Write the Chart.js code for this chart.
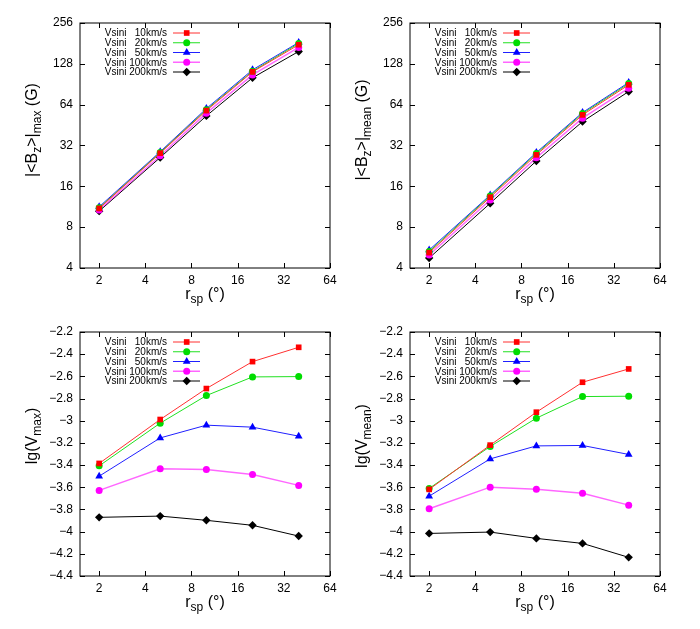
<!DOCTYPE html>
<html><head><meta charset="utf-8">
<script src="https://cdn.jsdelivr.net/npm/chart.js@4.4.0/dist/chart.umd.min.js"></script>
<style>
body{margin:0;background:#fff;width:700px;height:629px;position:relative;overflow:hidden}
.p{position:absolute}
</style></head><body>
<div class="p" style="left:0;top:0"><canvas id="c1" width="350" height="314"></canvas></div>
<div class="p" style="left:350px;top:0"><canvas id="c2" width="350" height="314"></canvas></div>
<div class="p" style="left:0;top:314px"><canvas id="c3" width="350" height="315"></canvas></div>
<div class="p" style="left:350px;top:314px"><canvas id="c4" width="350" height="315"></canvas></div>
<script>
// ---- data ----
const rsp = [2, 5, 10, 20, 40];
const seriesNames = ['Vsini   10km/s', 'Vsini   20km/s', 'Vsini   50km/s', 'Vsini 100km/s', 'Vsini 200km/s'];
const xTicks = [2, 4, 8, 16, 32, 64];
const bTicks = [4, 8, 16, 32, 64, 128, 256];
const lgTicks = [-4.4, -4.2, -4.0, -3.8, -3.6, -3.4, -3.2, -3.0, -2.8, -2.6, -2.4, -2.2];

// |<Bz>|max (G)
const bmax10  = [11.0, 28.1, 57.9, 111.7, 177];
const bmax20  = [11.1, 28.4, 58.8, 113.0, 181];
const bmax50  = [11.3, 28.8, 59.9, 115.6, 184];
const bmax100 = [10.7, 26.9, 55.4, 106.0, 169];
const bmax200 = [10.5, 26.1, 52.9, 101.0, 158];
// |<Bz>|mean (G)
const bmean10  = [5.19, 13.3, 27.3, 53.8, 89.6];
const bmean20  = [5.30, 13.6, 27.9, 55.0, 91.5];
const bmean50  = [5.43, 13.8, 28.4, 56.0, 93.2];
const bmean100 = [4.99, 12.7, 26.0, 50.9, 84.7];
const bmean200 = [4.74, 12.0, 24.6, 48.0, 80.0];
// lg(Vmax)
const vmax10  = [-3.385, -2.989, -2.710, -2.467, -2.338];
const vmax20  = [-3.407, -3.022, -2.773, -2.605, -2.602];
const vmax50  = [-3.500, -3.155, -3.040, -3.058, -3.139];
const vmax100 = [-3.628, -3.434, -3.439, -3.484, -3.583];
const vmax200 = [-3.871, -3.860, -3.898, -3.943, -4.040];
// lg(Vmean)
const vmean10  = [-3.619, -3.220, -2.923, -2.653, -2.533];
const vmean20  = [-3.610, -3.232, -2.977, -2.782, -2.779];
const vmean50  = [-3.680, -3.344, -3.227, -3.223, -3.304];
const vmean100 = [-3.794, -3.599, -3.617, -3.653, -3.761];
const vmean200 = [-4.016, -4.004, -4.061, -4.106, -4.232];

// ---- styles ----
const FONT = '"Liberation Sans", Arial, Helvetica, sans-serif';
const colors = ['#ff0000', '#00dd00', '#0000ff', '#ff00ff', '#000000'];
const lineColors = ['#ff3030', '#20e020', '#2020ff', 'rgba(255,0,255,0.6)', '#000000'];
const lineWidths = [1, 1, 1, 1.5, 1];
const shapes = ['rect', 'circle', 'triangle', 'circle', 'rectRot'];
const radii = [4, 3.5, 4.5, 3.5, 4.2];

function drawShape(ctx, shape, x, y, r, color) {
  ctx.save();
  ctx.fillStyle = color;
  ctx.beginPath();
  if (shape === 'rect') { const h = r * Math.SQRT1_2; ctx.rect(x - h, y - h, 2 * h, 2 * h); }
  else if (shape === 'circle') { ctx.arc(x, y, r, 0, Math.PI * 2); }
  else if (shape === 'triangle') {
    ctx.moveTo(x, y - r); ctx.lineTo(x + r * 0.866, y + r * 0.5); ctx.lineTo(x - r * 0.866, y + r * 0.5); ctx.closePath();
  } else if (shape === 'rectRot') {
    ctx.moveTo(x, y - r); ctx.lineTo(x + r, y); ctx.lineTo(x, y + r); ctx.lineTo(x - r, y); ctx.closePath();
  }
  ctx.fill();
  ctx.restore();
}

function segWidth(ctx, segs, main, sub) {
  let w = 0;
  for (const s of segs) { ctx.font = (s.sub ? sub : main) + 'px ' + FONT; w += ctx.measureText(s.t).width; }
  return w;
}
function drawSegs(ctx, segs, x, y, main, sub) {
  const w = segWidth(ctx, segs, main, sub);
  let cx = x - w / 2;
  ctx.textAlign = 'left'; ctx.textBaseline = 'alphabetic'; ctx.fillStyle = '#000';
  for (const s of segs) {
    ctx.font = (s.sub ? sub : main) + 'px ' + FONT;
    ctx.fillText(s.t, cx, y + (s.sub ? 3.5 : 0));
    cx += ctx.measureText(s.t).width;
  }
}

const gpPlugin = {
  id: 'gp',
  afterDraw(chart) {
    const o = chart.options.plugins.gp;
    const ctx = chart.ctx, a = chart.chartArea;
    const xs = chart.scales.x, ys = chart.scales.y;
    ctx.save();
    // frame
    ctx.strokeStyle = '#000'; ctx.lineWidth = 1;
    ctx.strokeRect(a.left, a.top, a.right - a.left, a.bottom - a.top);
    // inward ticks on all four sides
    ctx.beginPath();
    for (const t of xs.ticks) {
      const px = Math.round(xs.getPixelForValue(t.value)) + 0.5;
      ctx.moveTo(px, a.bottom); ctx.lineTo(px, a.bottom - 5);
      ctx.moveTo(px, a.top); ctx.lineTo(px, a.top + 5);
    }
    for (const t of ys.ticks) {
      const py = Math.round(ys.getPixelForValue(t.value)) + 0.5;
      ctx.moveTo(a.left, py); ctx.lineTo(a.left + 5, py);
      ctx.moveTo(a.right, py); ctx.lineTo(a.right - 5, py);
    }
    ctx.stroke();
    // y title (rotated)
    ctx.save();
    ctx.translate(a.left - 43, o.yTitleY);
    ctx.rotate(-Math.PI / 2);
    drawSegs(ctx, o.yTitle, 0, 0, 16, 12);
    ctx.restore();
    // x title
    drawSegs(ctx, o.xTitle, (a.left + a.right) / 2, a.bottom + 31, 16, 12);
    // legend (gnuplot style: text, line sample, marker)
    chart.data.datasets.forEach((ds, i) => {
      const ry = a.top + 10 + i * 9.75;
      ctx.font = '10px ' + FONT; ctx.fillStyle = '#000';
      ctx.textAlign = 'right'; ctx.textBaseline = 'middle';
      ctx.fillText(ds.label, a.left + 87, ry + 0.5);
      ctx.beginPath();
      ctx.strokeStyle = ds.borderColor; ctx.lineWidth = ds.borderWidth;
      ctx.moveTo(a.left + 93, ry); ctx.lineTo(a.left + 120, ry);
      ctx.stroke();
      drawShape(ctx, ds.pointStyle, a.left + 106.7, ry, ds.pointRadius, ds.pointBackgroundColor);
    });
    ctx.restore();
  }
};

function makeChart(id, series, isLog, yTitle, yTitleY, pad) {
  const datasets = series.map((vals, i) => ({
    label: seriesNames[i],
    data: rsp.map((x, j) => ({ x: x, y: vals[j] })),
    borderColor: lineColors[i],
    borderWidth: lineWidths[i],
    pointBackgroundColor: colors[i],
    pointBorderColor: colors[i],
    pointBorderWidth: 0,
    pointStyle: shapes[i],
    pointRadius: radii[i],
    tension: 0,
    fill: false
  }));
  const tickFont = { family: FONT, size: 12 };
  const yScale = isLog ? {
    type: 'logarithmic', min: 4, max: 256,
    afterBuildTicks: s => { s.ticks = bTicks.map(v => ({ value: v })); },
    ticks: { callback: v => String(v) }
  } : {
    type: 'linear', min: -4.4, max: -2.2,
    afterBuildTicks: s => { s.ticks = lgTicks.map(v => ({ value: v })); },
    ticks: { callback: v => String(parseFloat(v.toFixed(1))).replace('-', '\u2212') }
  };
  Object.assign(yScale, {
    position: 'left',
    grid: { display: false, drawTicks: false },
    border: { display: false },
    afterFit: s => { s.width = 50; }
  });
  Object.assign(yScale.ticks, { font: tickFont, color: '#000', padding: 7, autoSkip: false });
  return new Chart(document.getElementById(id), {
    type: 'line',
    data: { datasets },
    plugins: [gpPlugin],
    options: {
      responsive: false, animation: false,
      layout: { padding: pad },
      scales: {
        x: {
          type: 'logarithmic', min: 1.5, max: 64, position: 'bottom',
          afterBuildTicks: s => { s.ticks = xTicks.map(v => ({ value: v })); },
          ticks: { callback: v => String(v), font: tickFont, color: '#000', padding: 5, autoSkip: false, maxRotation: 0 },
          grid: { display: false, drawTicks: false },
          border: { display: false },
          afterFit: s => { s.height = 30; }
        },
        y: yScale
      },
      plugins: {
        legend: { display: false },
        tooltip: { enabled: false },
        gp: { yTitle, yTitleY, xTitle: [{ t: 'r' }, { t: 'sp', sub: true }, { t: ' (\u00b0)' }] }
      }
    }
  });
}

makeChart('c1', [bmax10, bmax20, bmax50, bmax100, bmax200], true,
  [{ t: '|<B' }, { t: 'z', sub: true }, { t: '>|' }, { t: 'max', sub: true }, { t: ' (G)' }], 130,
  { left: 30, right: 20, top: 23, bottom: 16 });
makeChart('c2', [bmean10, bmean20, bmean50, bmean100, bmean200], true,
  [{ t: '|<B' }, { t: 'z', sub: true }, { t: '>|' }, { t: 'mean', sub: true }, { t: ' (G)' }], 130,
  { left: 10, right: 40, top: 23, bottom: 16 });
makeChart('c3', [vmax10, vmax20, vmax50, vmax100, vmax200], false,
  [{ t: 'lg(V' }, { t: 'max', sub: true }, { t: ')' }], 122,
  { left: 30, right: 20, top: 18, bottom: 23 });
makeChart('c4', [vmean10, vmean20, vmean50, vmean100, vmean200], false,
  [{ t: 'lg(V' }, { t: 'mean', sub: true }, { t: ')' }], 122,
  { left: 10, right: 40, top: 18, bottom: 23 });
</script>
</body></html>
